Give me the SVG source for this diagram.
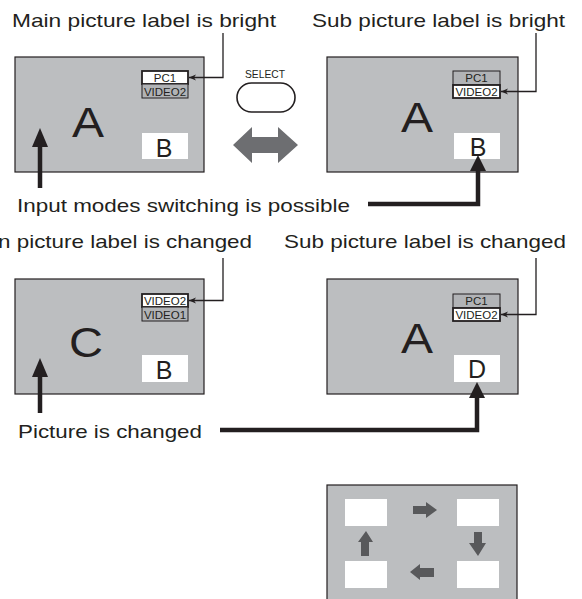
<svg xmlns="http://www.w3.org/2000/svg" width="582" height="599" viewBox="0 0 582 599">
<defs>
<style>
.t{font-family:"Liberation Sans",Arial,Helvetica,sans-serif;fill:#231f20}
.ti{font-size:18.5px}
.big{font-size:42px}
.mid{font-size:25px;text-anchor:middle}
.lab{font-size:11.5px;text-anchor:middle}
.panel{fill:#bcbec0;stroke:#231f20;stroke-width:1.2}
.wbox{fill:#ffffff}
.hl{fill:#ffffff;stroke:#231f20;stroke-width:1.8}
.dim{fill:#b1b3b6;stroke:#231f20;stroke-width:1}
.thin{fill:none;stroke:#231f20;stroke-width:1.3}
.thick{fill:none;stroke:#231f20;stroke-width:4.5}
.ga{fill:#58595b}
.head{fill:#231f20}
</style>
<marker id="sm" viewBox="0 0 8 8" refX="8" refY="4" markerWidth="8" markerHeight="8" markerUnits="userSpaceOnUse" orient="auto">
<path d="M8,4 L1,1 L3,4 L1,7 Z" fill="#231f20"/>
</marker>
</defs>

<g id="title-main-bright"><text class="t ti" x="12" y="27" textLength="264" lengthAdjust="spacingAndGlyphs">Main picture label is bright</text></g>
<g id="title-sub-bright"><text class="t ti" x="312" y="27" textLength="253" lengthAdjust="spacingAndGlyphs">Sub picture label is bright</text></g>
<g id="title-input"><text class="t ti" x="17" y="212" textLength="333" lengthAdjust="spacingAndGlyphs">Input modes switching is possible</text></g>
<g id="title-main-changed"><text class="t ti" x="-38" y="248" textLength="290" lengthAdjust="spacingAndGlyphs">Main picture label is changed</text></g>
<g id="title-sub-changed"><text class="t ti" x="284" y="248" textLength="282" lengthAdjust="spacingAndGlyphs">Sub picture label is changed</text></g>
<g id="title-picture-changed"><text class="t ti" x="18" y="438" textLength="184" lengthAdjust="spacingAndGlyphs">Picture is changed</text></g>

<g id="panel1">
<rect class="panel" x="15" y="57" width="189" height="115"/>
<rect class="hl" x="142" y="71" width="46" height="13"/>
<rect class="dim" x="142" y="84" width="46" height="14"/>
<text class="t lab" x="165" y="82">PC1</text>
<text class="t lab" x="165" y="96">VIDEO2</text>
<text class="t big" x="72" y="137" textLength="32" lengthAdjust="spacingAndGlyphs">A</text>
<rect class="wbox" x="142" y="133" width="46" height="26"/>
<text class="t mid" x="164" y="157">B</text>
</g>

<g id="select-button">
<text class="t" x="245" y="78" font-size="11.5" textLength="40" lengthAdjust="spacingAndGlyphs">SELECT</text>
<rect x="237" y="83" width="58" height="29" rx="14.5" fill="#ffffff" stroke="#231f20" stroke-width="1.6"/>
</g>

<g id="swap-arrow">
<path d="M233,145 L252,127 L252,137 L278,137 L278,127 L298,145 L278,163 L278,153 L252,153 L252,163 Z" fill="#6d6e71"/>
</g>

<g id="panel2">
<rect class="panel" x="327" y="57" width="191" height="115"/>
<rect class="dim" x="453" y="71" width="47" height="14"/>
<rect class="hl" x="453" y="85" width="47" height="13"/>
<text class="t lab" x="476.5" y="82">PC1</text>
<text class="t lab" x="476.5" y="96">VIDEO2</text>
<text class="t big" x="401" y="132" textLength="32" lengthAdjust="spacingAndGlyphs">A</text>
<rect class="wbox" x="454" y="133" width="46" height="26"/>
<text class="t mid" x="478" y="156">B</text>
</g>

<g id="panel3">
<rect class="panel" x="15" y="279" width="189" height="115"/>
<rect class="hl" x="142" y="294" width="46" height="13"/>
<rect class="dim" x="142" y="307" width="46" height="14"/>
<text class="t lab" x="165" y="305">VIDEO2</text>
<text class="t lab" x="165" y="319">VIDEO1</text>
<text class="t big" x="69" y="357" textLength="34" lengthAdjust="spacingAndGlyphs">C</text>
<rect class="wbox" x="142" y="355" width="46" height="27"/>
<text class="t mid" x="164" y="379">B</text>
</g>

<g id="panel4">
<rect class="panel" x="327" y="279" width="191" height="115"/>
<rect class="dim" x="453" y="294" width="47" height="14"/>
<rect class="hl" x="453" y="308" width="47" height="13"/>
<text class="t lab" x="476.5" y="305">PC1</text>
<text class="t lab" x="476.5" y="319">VIDEO2</text>
<text class="t big" x="401" y="353" textLength="32" lengthAdjust="spacingAndGlyphs">A</text>
<rect class="wbox" x="454" y="355" width="46" height="27"/>
<text class="t mid" x="477" y="378">D</text>
</g>

<g id="panel5">
<rect class="panel" x="327" y="485" width="190" height="130"/>
<rect class="wbox" x="345" y="499" width="42" height="27"/>
<rect class="wbox" x="457" y="499" width="42" height="27"/>
<rect class="wbox" x="345" y="561" width="42" height="27"/>
<rect class="wbox" x="457" y="561" width="42" height="27"/>
<path class="ga" d="M413,506 L426,506 L426,502 L437,510 L426,518 L426,514 L413,514 Z"/>
<path class="ga" d="M474,532 L482,532 L482,543 L486,543 L478,556 L469,543 L474,543 Z"/>
<path class="ga" d="M434,568 L420,568 L420,564 L410,572 L420,580 L420,577 L434,577 Z"/>
<path class="ga" d="M361,556 L369,556 L369,542 L373,542 L366,531 L358,542 L361,542 Z"/>
</g>

<g id="connectors">
<polyline class="thin" points="223,33 223,77.5 189,77.5" marker-end="url(#sm)"/>
<polyline class="thin" points="536,33 536,91.5 501,91.5" marker-end="url(#sm)"/>
<polyline class="thin" points="223,258 223,300.5 189,300.5" marker-end="url(#sm)"/>
<polyline class="thin" points="536,258 536,314.5 501,314.5" marker-end="url(#sm)"/>

<line class="thick" x1="40" y1="188" x2="40" y2="144"/>
<path class="head" d="M40,128 L48,147 L32,147 Z"/>

<polyline class="thick" points="368,204 478,204 478,168"/>
<path class="head" d="M478,155 L486,171 L470,171 Z"/>

<line class="thick" x1="40" y1="413" x2="40" y2="374"/>
<path class="head" d="M40,358 L48,377 L32,377 Z"/>

<polyline class="thick" points="220,430 477,430 477,395"/>
<path class="head" d="M477,382 L485,398 L469,398 Z"/>
</g>
</svg>
